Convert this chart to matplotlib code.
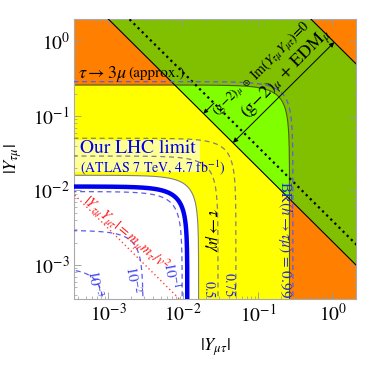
import numpy as np
import matplotlib
matplotlib.use("Agg")
import matplotlib.pyplot as plt
from matplotlib.colors import ListedColormap
from matplotlib.patches import Rectangle

# Axis range (both axes)
AX_LIM = (3.5e-4, 2.0)

# Region boundaries
R_TAU_MUGAMMA = 0.016      # tau -> mu gamma (white region edge)
R_TAU_3MU = 0.26           # tau -> 3mu (approx.) edge
G2_PRODUCT = 2.0e-3        # (g-2)_mu solid diagonal, |Y Y|
G2_CENTRAL = 3.8e-3        # (g-2)_mu dotted line
EDM_PRODUCT = 1.0          # (g-2)_mu + EDM_mu upper diagonal
LHC_LIMIT = 0.0113         # our LHC limit
R_HALF = 0.029             # radius where BR(h -> tau mu) = 0.5
NATURAL = 0.10566 * 1.77686 / 246.22 ** 2   # m_mu m_tau / v^2

BR_BLUE = [1e-3, 1e-2, 1e-1, 0.99]
BR_GRAY = [0.5, 0.75]
BR_LABELS = [r"$10^{-3}$", r"$10^{-2}$", r"$10^{-1}$"]

REGION_COLORS = ["#ffffff", "#ffff00", "#ff8000", "#80ff00", "#80c000"]

plt.rcParams["mathtext.fontset"] = "stix"
plt.rcParams["font.family"] = ["STIXGeneral", "Liberation Serif", "DejaVu Serif"]


def br_radius(br):
    return R_HALF * np.sqrt(br / (1.0 - br))


def quarter_circle(r):
    t = np.linspace(1e-5, np.pi / 2 - 1e-5, 3000)
    return r * np.cos(t), r * np.sin(t)


fig = plt.figure(figsize=(3.74, 3.74), dpi=100)
ax = fig.add_axes([0.198, 0.2005, 0.754, 0.7487])
ax.set_xscale("log")
ax.set_yscale("log")

# filled regions
xe = np.logspace(-3.5, 0.35, 1300)
X, Y = np.meshgrid(xe, xe)
r = np.hypot(X, Y)
p = X * Y
Z = np.where(p > EDM_PRODUCT, 2,
     np.where(p > G2_PRODUCT, np.where(r < R_TAU_3MU, 3, 4),
     np.where(r < R_TAU_MUGAMMA, 0, np.where(r < R_TAU_3MU, 1, 2))))
ax.pcolormesh(X, Y, Z, cmap=ListedColormap(REGION_COLORS), vmin=-0.5, vmax=4.5,
              shading="auto", zorder=0, rasterized=True)

# pale label box
ax.add_patch(Rectangle((0, 0.4536), 0.447, 0.115, transform=ax.transAxes,
                       facecolor="white", alpha=0.6, edgecolor="none", zorder=1))

# boundaries
ax.plot(*quarter_circle(R_TAU_MUGAMMA), color="#808080", lw=0.8, zorder=2)
ax.plot(*quarter_circle(R_TAU_3MU), color="#4d5a10", lw=0.8, zorder=2)

xs = np.logspace(-4, 0.5, 400)
ax.plot(xs, G2_PRODUCT / xs, color="black", lw=0.8, zorder=3)
ax.plot(xs, EDM_PRODUCT / xs, color="black", lw=0.8, zorder=3)
ax.plot(xs, G2_CENTRAL / xs, color="black", lw=1.6, ls=(0, (1, 1.6)), zorder=3)
ax.plot(xs, NATURAL / xs, color="#ff4040", lw=1.0, ls=(0, (1, 2)), zorder=3)

# BR(h -> tau mu) contours
for br in BR_BLUE:
    ax.plot(*quarter_circle(br_radius(br)), color="#5a5aee",
            lw=0.9, ls=(0, (4, 3)), zorder=3)
for br in BR_GRAY:
    ax.plot(*quarter_circle(br_radius(br)), color="#808080",
            lw=0.9, ls=(0, (4, 3)), zorder=3)

# LHC limit
ax.plot(*quarter_circle(LHC_LIMIT), color="#0000ee", lw=3.2, zorder=4,
        solid_capstyle="butt")

# arrows
ratio = 1.05
x0 = np.sqrt(G2_PRODUCT * ratio)
x1 = np.sqrt(EDM_PRODUCT * ratio)
ax.annotate("", xy=(x0, x0 / ratio), xytext=(x1, x1 / ratio),
            arrowprops=dict(arrowstyle="<|-|>", color="black", lw=0.7,
                            mutation_scale=7, shrinkA=0, shrinkB=0), zorder=4)
ratio2 = 0.172
a0 = np.sqrt(G2_CENTRAL * ratio2)
a1 = np.sqrt(G2_PRODUCT * ratio2)
ax.annotate("", xy=(a1, a1 / ratio2), xytext=(a0, a0 / ratio2),
            arrowprops=dict(arrowstyle="-|>", color="black", lw=0.7,
                            mutation_scale=6, shrinkA=0, shrinkB=0), zorder=4)

# labels
ax.text(3.9e-4, 0.37, r"$\tau \rightarrow 3\mu$", fontsize=13, ha="left",
        va="center", zorder=5)
ax.text(1.85e-3, 0.37, "(approx.)", fontsize=11, ha="left", va="center", zorder=5)
ax.text(4.2e-4, 0.037, "Our LHC limit", fontsize=14, color="#0000ee",
        ha="left", va="center", zorder=5)
ax.text(4.2e-4, 0.0205, r"(ATLAS 7 TeV, 4.7 fb$^{-1}$)", fontsize=10,
        color="#0000ee", ha="left", va="center", zorder=5)
ax.text(0.0229, 0.0029, r"$\tau \rightarrow \mu\gamma$", fontsize=12,
        rotation=-90, ha="center", va="center", zorder=5)
ax.text(0.0215, 4.6e-4, "0.5", fontsize=10, color="#2a2ad0", rotation=-90,
        ha="center", va="center", zorder=5)
ax.text(0.0398, 5.37e-4, "0.75", fontsize=10, color="#2a2ad0", rotation=-90,
        ha="center", va="center", zorder=5)
ax.text(0.229, 2.18e-3, r"BR$(h\rightarrow\tau\mu)$ = 0.99", fontsize=11,
        color="#2a2ad0", rotation=-90, ha="center", va="center", zorder=5)
for lab, (tx, ty) in zip(BR_LABELS,
                         [(6.5e-4, 5.71e-4), (2.09e-3, 6.26e-4), (6.9e-3, 7.33e-4)]):
    ax.text(tx, ty, lab, fontsize=10.5, color="#3a3aee", rotation=-80,
            ha="center", va="center", zorder=5)
ax.text(1.69e-3, 2.6e-3, r"$|Y_{\tau\mu}Y_{\mu\tau}|=m_\mu m_\tau/v^2$",
        fontsize=10.5, color="#ff2020", rotation=-40, ha="center", va="center",
        zorder=5)
ax.text(0.0398, 0.16, r"(g$-$2)$_\mu$", fontsize=9.5, rotation=45,
        ha="center", va="center", zorder=5)
ax.text(0.069, 0.279, r"$\otimes$", fontsize=6, ha="center", va="center", zorder=5)
ax.text(0.196, 0.755, r"Im$(Y_{\tau\mu}Y_{\mu\tau})$=0", fontsize=10,
        rotation=45, ha="center", va="center", zorder=5)
ax.text(0.236, 0.37, r"(g$-$2)$_\mu$ + EDM$_\mu$", fontsize=13, rotation=45,
        ha="center", va="center", zorder=5)

ax.set_xlim(*AX_LIM)
ax.set_ylim(*AX_LIM)
ax.set_xlabel(r"$|Y_{\mu\tau}|$", fontsize=13, labelpad=8)
ax.set_ylabel(r"$|Y_{\tau\mu}|$", fontsize=13, labelpad=6)
ax.tick_params(which="both", direction="in", top=True, right=True,
               color="#999999", labelsize=14, pad=3)
ax.tick_params(which="major", length=5, width=0.6)
ax.tick_params(which="minor", length=2.5, width=0.5)
for s in ax.spines.values():
    s.set_color("#aaaaaa")
    s.set_linewidth(0.8)

fig.savefig("out.png", dpi=100)
